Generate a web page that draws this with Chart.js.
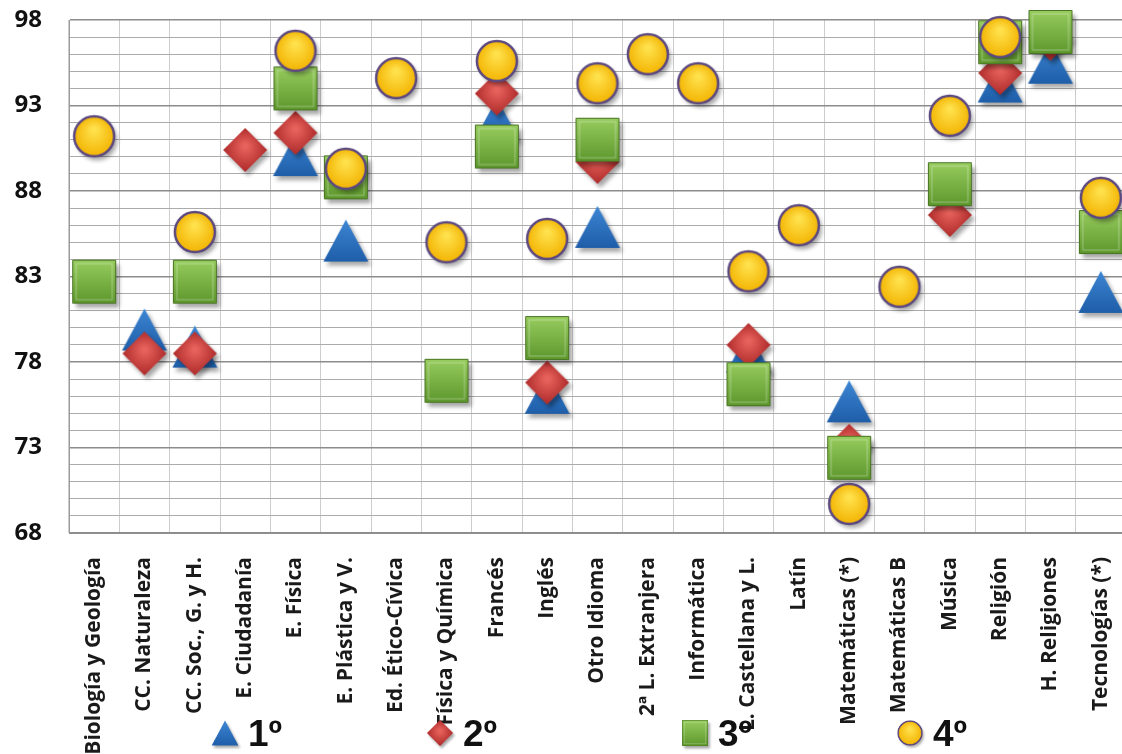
<!DOCTYPE html>
<html>
<head>
<meta charset="utf-8">
<script src="https://cdn.jsdelivr.net/npm/chart.js@4"></script>
<style>
  html, body { margin: 0; padding: 0; background: #fff; overflow: hidden; }
  #wrap { width: 1122px; height: 754px; overflow: hidden; position: relative; }
</style>
</head>
<body>
<div id="wrap"><canvas id="chart" width="1126" height="754"></canvas></div>
<script>
const CATEGORIES = [
  'Biología y Geología', 'CC. Naturaleza', 'CC. Soc., G. y H.', 'E. Ciudadanía',
  'E. Física', 'E. Plástica y V.', 'Ed. Ético-Cívica', 'Física y Química',
  'Francés', 'Inglés', 'Otro Idioma', '2ª L. Extranjera', 'Informática',
  'L. Castellana y L.', 'Latín', 'Matemáticas (*)', 'Matemáticas B', 'Música',
  'Religión', 'H. Religiones', 'Tecnologías (*)'
];

const SERIES_NAMES = ['1º', '2º', '3º', '4º'];

const PRIMERO = [null, 79.9, 78.9, null, 90.1, 85.1, null, null, 92.2, 76.2, 85.9,
  null, null, 78.6, null, 75.7, null, null, 94.4, 95.5, 82.1];
const SEGUNDO = [null, 78.5, 78.5, 90.4, 91.4, null, null, null, 93.7, 76.8, 89.7,
  null, null, 79.0, null, 73.1, null, 86.6, 94.9, 96.9, null];
const TERCERO = [82.7, null, 82.7, null, 94.0, 88.8, null, 76.9, 90.6, 79.4, 91.0,
  null, null, 76.7, null, 72.4, null, 88.4, 96.7, 97.3, 85.6];
const CUARTO = [91.2, null, 85.6, null, 96.2, 89.3, 94.6, 85.0, 95.6, 85.2, 94.3,
  96.0, 94.3, 83.3, 86.0, 69.7, 82.4, 92.4, 97.0, null, 87.6];

const Y_MIN = 68;
const Y_MAX = 98;
const Y_LABEL_STEP = 5;

// marker sprites, drawn once and used as pointStyle
function makeMarker(kind) {
  const c = document.createElement('canvas');
  c.width = 64; c.height = 64;
  const g = c.getContext('2d');
  g.translate(32, 32);
  g.shadowColor = 'rgba(0,0,0,0.35)';
  g.shadowBlur = 4;
  g.shadowOffsetX = 3;
  g.shadowOffsetY = 4;
  g.beginPath();
  let fill;
  if (kind === 'triangle') {
    g.moveTo(0, -21); g.lineTo(22.5, 21); g.lineTo(-22.5, 21); g.closePath();
    fill = g.createLinearGradient(0, -21, 0, 21);
    fill.addColorStop(0, '#3d86d4');
    fill.addColorStop(1, '#1f5ea9');
  } else if (kind === 'diamond') {
    g.moveTo(0, -22); g.lineTo(22, 0); g.lineTo(0, 22); g.lineTo(-22, 0); g.closePath();
    fill = g.createRadialGradient(0, -4, 2, 0, 0, 24);
    fill.addColorStop(0, '#e8625c');
    fill.addColorStop(1, '#a82626');
  } else if (kind === 'square') {
    g.rect(-21.5, -21.5, 43, 43);
    fill = g.createLinearGradient(0, -21, 0, 21);
    fill.addColorStop(0, '#97cc5e');
    fill.addColorStop(1, '#5e982d');
  } else {
    g.arc(0, 0, 20, 0, Math.PI * 2);
    fill = g.createRadialGradient(0, -7, 2, 0, 0, 21);
    fill.addColorStop(0, '#ffe14c');
    fill.addColorStop(1, '#f3b300');
  }
  g.fillStyle = fill;
  g.fill();
  g.shadowColor = 'transparent';
  if (kind === 'circle') {
    g.lineWidth = 2.5;
    g.strokeStyle = '#5c4880';
    g.stroke();
  } else if (kind === 'square') {
    g.lineWidth = 1;
    g.strokeStyle = '#4a7424';
    g.stroke();
    // light bevel
    g.strokeStyle = 'rgba(255,255,255,0.35)';
    g.strokeRect(-18, -18, 36, 36);
  }
  return c;
}

const MARKERS = [makeMarker('triangle'), makeMarker('diamond'), makeMarker('square'), makeMarker('circle')];
const VALUES = [PRIMERO, SEGUNDO, TERCERO, CUARTO];

const bottomLegend = {
  id: 'bottomLegend',
  afterDraw(chart) {
    const ctx = chart.ctx;
    const xs = [225, 440, 695, 910];
    ctx.save();
    ctx.font = 'bold 37px "Liberation Sans"';
    ctx.fillStyle = '#111';
    ctx.textBaseline = 'alphabetic';
    chart.data.datasets.forEach((ds, i) => {
      ctx.drawImage(ds.pointStyle, xs[i] - 19, 733 - 19, 38, 38);
      ctx.fillText(ds.label, xs[i] + 23, 746);
    });
    ctx.restore();
  }
};

const whiteBg = {
  id: 'whiteBg',
  beforeDraw(chart) {
    const ctx = chart.ctx;
    ctx.save();
    ctx.fillStyle = '#fff';
    ctx.fillRect(0, 0, chart.width, chart.height);
    ctx.restore();
  }
};

new Chart(document.getElementById('chart'), {
  type: 'line',
  data: {
    labels: CATEGORIES,
    datasets: SERIES_NAMES.map((name, i) => ({
      label: name,
      data: VALUES[i],
      showLine: false,
      pointStyle: MARKERS[i],
      pointRadius: 22,
      pointHoverRadius: 22,
      order: 4 - i,
      clip: false
    }))
  },
  options: {
    responsive: false,
    animation: false,
    layout: { autoPadding: false, padding: { top: 20, right: 0, left: 0, bottom: 0 } },
    plugins: {
      legend: { display: false },
      tooltip: { enabled: false }
    },
    scales: {
      x: {
        offset: true,
        grid: { offset: true, color: '#cdcdcd', drawTicks: false },
        border: { color: '#8f8f8f' },
        ticks: {
          autoSkip: false,
          maxRotation: 90,
          minRotation: 90,
          padding: 24,
          color: '#1a1a1a',
          font: { family: 'Open Sans', weight: 'bold', size: 21 }
        },
        afterFit(scale) {
          scale.height = 221;
          scale.paddingLeft = 0;
          scale.paddingRight = 0;
        }
      },
      y: {
        min: Y_MIN,
        max: Y_MAX,
        grid: {
          drawTicks: false,
          color: (c) => ((c.tick.value - Y_MIN) % Y_LABEL_STEP === 0 ? '#8c8c8c' : '#ababab'),
          lineWidth: (c) => ((c.tick.value - Y_MIN) % Y_LABEL_STEP === 0 ? 1.5 : 1)
        },
        border: { color: '#9a9a9a' },
        ticks: {
          stepSize: 1,
          autoSkip: false,
          padding: 27,
          color: '#111',
          font: { family: 'Open Sans', weight: 'bold', size: 24 },
          callback: (v) => ((v - Y_MIN) % Y_LABEL_STEP === 0 ? String(v) : '')
        },
        afterFit(scale) {
          scale.width = 69;
          scale.paddingTop = 0;
          scale.paddingBottom = 0;
        }
      }
    }
  },
  plugins: [whiteBg, bottomLegend]
});
</script>
</body>
</html>
